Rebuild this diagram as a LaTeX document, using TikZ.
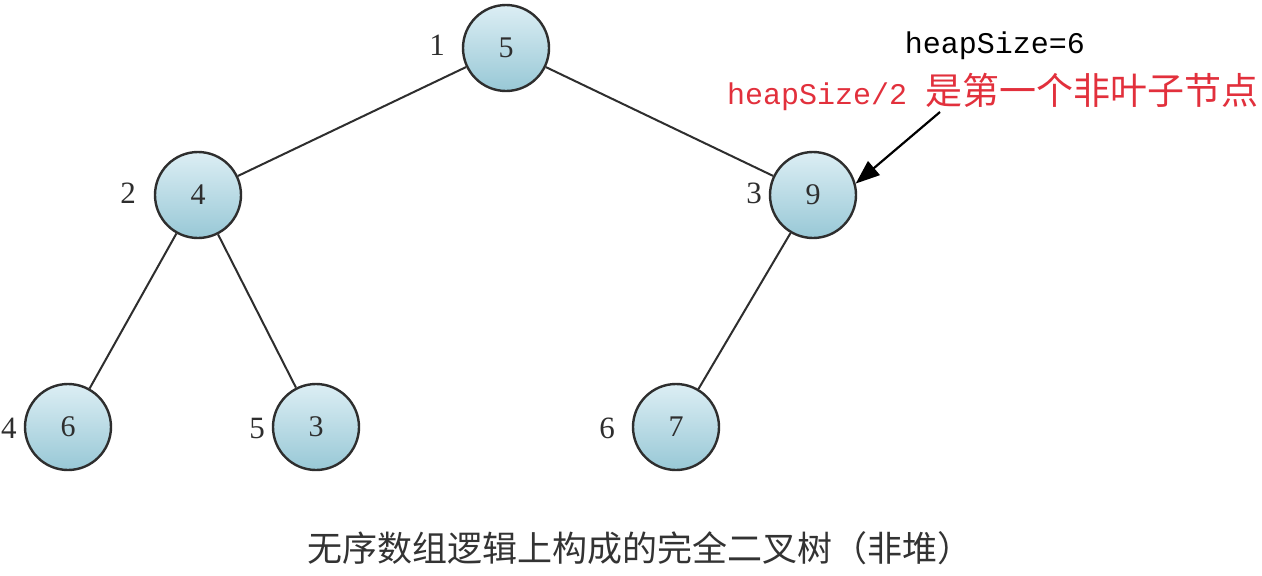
\documentclass[tikz,border=0pt]{standalone}
\usepackage{fontspec}
\setmainfont{Liberation Serif}
\newfontfamily\cjk{Noto Sans CJK SC}
\newfontfamily\monof{Liberation Mono}
\usetikzlibrary{arrows.meta}
\definecolor{edgec}{HTML}{2E2E2E}
\definecolor{topc}{HTML}{DCEEF4}
\definecolor{botc}{HTML}{98C8D6}
\definecolor{redc}{HTML}{E2303C}
\definecolor{capc}{HTML}{333333}
\tikzset{
  heapnode/.style={circle, draw=edgec, line width=2.4pt, minimum size=86pt, inner sep=0pt,
    top color=topc, bottom color=botc, font=\fontsize{30}{30}\selectfont, text=edgec},
  idx/.style={font=\fontsize{31}{31}\selectfont, text=edgec, inner sep=0pt},
  treeedge/.style={draw=edgec, line width=2pt},
  pointer/.style={draw=black, line width=2.2pt, -{Triangle[length=24pt,width=18pt]}}
}
\begin{document}
\begin{tikzpicture}[x=1pt,y=-1pt]
\useasboundingbox (0,0) rectangle (1262,576);
\fill[white] (0,0) rectangle (1262,576);
% nodes
\node[heapnode] (n1) at (506,48) {5};
\node[heapnode] (n2) at (198,195) {4};
\node[heapnode] (n3) at (813,195) {9};
\node[heapnode] (n4) at (68,427) {6};
\node[heapnode] (n5) at (316,427) {3};
\node[heapnode] (n6) at (676,427) {7};
% index labels
\node[idx] (i1) at (437,45) {1};
\node[idx] (i2) at (128,193) {2};
\node[idx] (i3) at (754,193) {3};
\node[idx] (i4) at (9,428) {4};
\node[idx] (i5) at (257,428) {5};
\node[idx] (i6) at (607,428) {6};
% edges
\draw[treeedge] (n1) -- (n2);
\draw[treeedge] (n1) -- (n3);
\draw[treeedge] (n2) -- (n4);
\draw[treeedge] (n2) -- (n5);
\draw[treeedge] (n3) -- (n6);
% annotation
\node[inner sep=0pt, text=black, font=\monof\fontsize{30}{30}\selectfont] (hs) at (995,46) {heapSize=6};
\node[inner sep=0pt, text=redc, anchor=west] (hs2) at (727,92) {\monof\fontsize{30}{30}\selectfont heapSize/2 \cjk\fontsize{37}{37}\selectfont 是第一个非叶子节点};
\coordinate (ptr) at (940,112);
\draw[pointer] (ptr) -- (n3.15);
% caption
\node[inner sep=0pt, text=capc, font=\cjk\fontsize{35}{35}\selectfont] (cap) at (640,548) {无序数组逻辑上构成的完全二叉树（非堆）};
\end{tikzpicture}
\end{document}
